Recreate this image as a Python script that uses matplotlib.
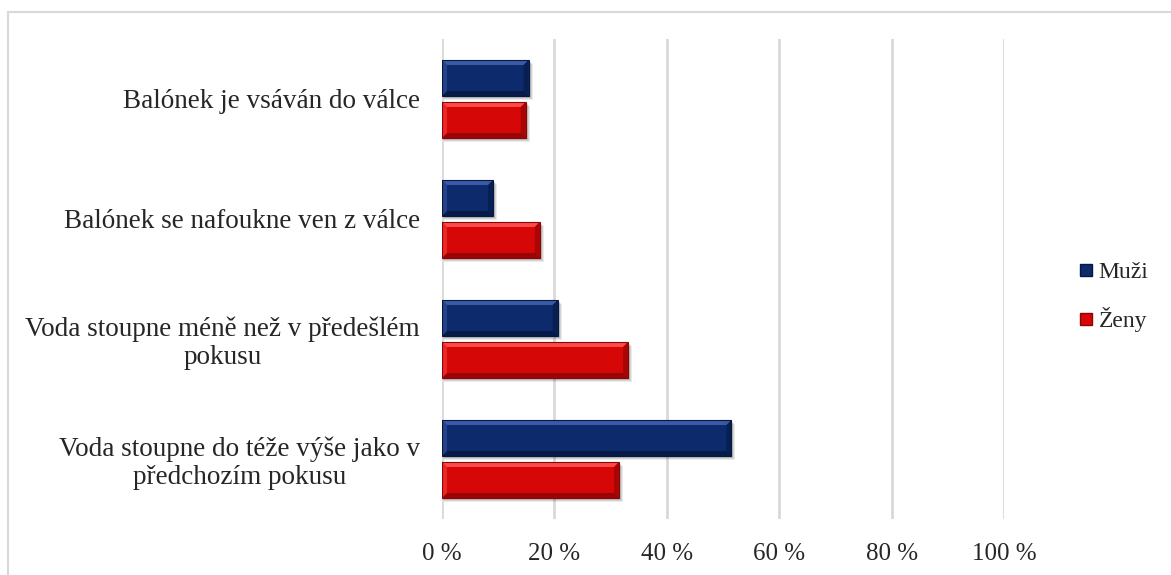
import matplotlib.pyplot as plt
import matplotlib.patches as mpatches
from matplotlib.lines import Line2D
import numpy as np

# data
categories = ["Balónek je vsáván do válce",
              "Balónek se nafoukne ven z válce",
              "Voda stoupne méně než v předešlém\npokusu",
              "Voda stoupne do téže výše jako v\npředchozím pokusu"]
muzi = [15.4, 9.1, 20.6, 51.5]
zeny = [14.9, 17.4, 33.1, 31.5]
xticks = [0, 20, 40, 60, 80, 100]
xticklabels = ["0 %", "20 %", "40 %", "60 %", "80 %", "100 %"]

navy = "#0c2a6c"
navy_lt = "#3a5aa8"
navy_dk = "#06183f"
red = "#d50707"
red_lt = "#ff4a4a"
red_dk = "#8a0505"

plt.rcParams['font.family'] = ['Liberation Serif', 'DejaVu Serif']

W, H = 1171, 575
fig = plt.figure(figsize=(W / 100, H / 100), dpi=100)
ax = fig.add_axes([442 / W, 1 - 519 / H, (1004 - 442) / W, 480 / H])

# outer frame
fig.patches.append(mpatches.Rectangle((8 / W, -0.05), 1.1, 1 - 12 / H + 0.05,
                                      transform=fig.transFigure, fill=False,
                                      edgecolor="#d9d9d9", linewidth=1.5))

y = np.arange(len(categories))
h = 0.3
off = 0.175
bars_m = ax.barh(y - off, muzi, height=h, color=navy, zorder=3)
bars_z = ax.barh(y + off, zeny, height=h, color=red, zorder=3)

ax.set_xlim(0, 100)
ax.set_ylim(len(categories) - 0.5, -0.5)

# pixel scale for bevel/shadow
px_x = 100 / (1004 - 442)
px_y = 1.0 / 120


def bevel(bar, lt, dk):
    x0, y0 = bar.get_x(), bar.get_y()
    w, hh = bar.get_width(), bar.get_height()
    x1, y1 = x0 + w, y0 + hh
    bx, by = 5 * px_x, 5 * px_y
    # shadow
    for k, a in [(4, 0.08), (3, 0.1), (2, 0.12)]:
        ax.add_patch(mpatches.Rectangle((x0 + k * px_x * 0.5, y0 + k * px_y),
                                        w + k * px_x * 0.5, hh,
                                        color="black", alpha=a, zorder=2,
                                        linewidth=0))
    ax.add_patch(mpatches.Polygon([(x0, y0), (x1, y0), (x1 - bx, y0 + by), (x0 + bx, y0 + by)],
                                  closed=True, color=lt, zorder=4, linewidth=0))
    ax.add_patch(mpatches.Polygon([(x0, y1), (x1, y1), (x1 - bx, y1 - by), (x0 + bx, y1 - by)],
                                  closed=True, color=dk, zorder=4, linewidth=0, alpha=0.8))
    ax.add_patch(mpatches.Polygon([(x0, y0), (x0 + bx, y0 + by), (x0 + bx, y1 - by), (x0, y1)],
                                  closed=True, color=lt, zorder=4, linewidth=0, alpha=0.5))
    ax.add_patch(mpatches.Polygon([(x1, y0), (x1 - bx, y0 + by), (x1 - bx, y1 - by), (x1, y1)],
                                  closed=True, color=dk, zorder=4, linewidth=0, alpha=0.6))
    ax.add_patch(mpatches.Rectangle((x0, y0), w, hh, fill=False, edgecolor=dk,
                                    linewidth=0.8, zorder=5))


for b in bars_m:
    bevel(b, navy_lt, navy_dk)
for b in bars_z:
    bevel(b, red_lt, red_dk)

ax.set_xticks(xticks)
ax.set_xticklabels(xticklabels, fontsize=18, color="#262626")
ax.set_yticks(y)
ax.set_yticklabels(categories, fontsize=19.5, color="#262626", ha="right",
                   multialignment="center", linespacing=1.15)
ax.tick_params(axis="both", length=0)
ax.tick_params(axis="x", pad=17)
ax.tick_params(axis="y", pad=16)
ax.grid(axis="x", color="#d9d9d9", linewidth=2, zorder=0)
for s in ax.spines.values():
    s.set_visible(False)

handles = [Line2D([], [], marker="s", linestyle="none", markersize=8,
                  markerfacecolor=navy, markeredgecolor=navy_dk),
           Line2D([], [], marker="s", linestyle="none", markersize=8,
                  markerfacecolor=red, markeredgecolor=red_dk)]
fig.legend(handles, ["Muži", "Ženy"], loc="center left",
           bbox_to_anchor=(1055 / W, 1 - 297 / H), frameon=False,
           fontsize=17, handlelength=0.8, handletextpad=0.15,
           labelspacing=1.0, labelcolor="#262626")

fig.savefig("out.png", dpi=100)
